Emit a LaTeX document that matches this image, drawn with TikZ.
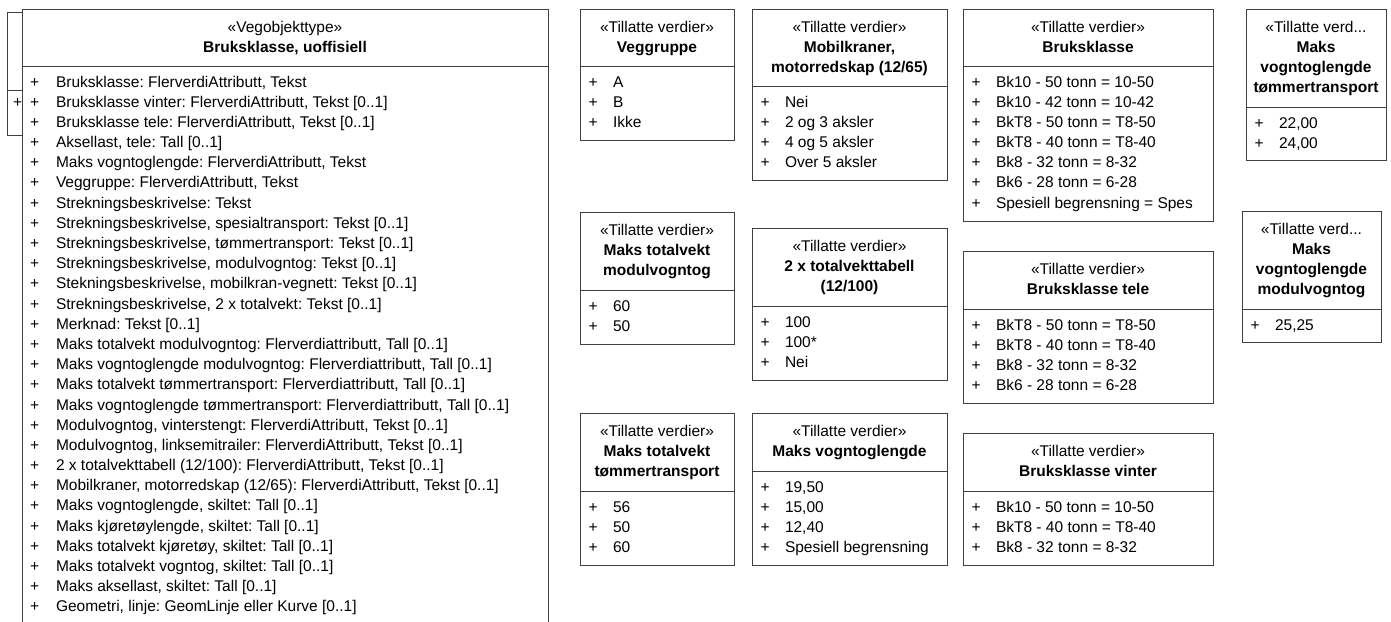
\documentclass[tikz,border=0pt]{standalone}
\usepackage{fontspec}
\setmainfont{Liberation Sans}
\frenchspacing
\tikzset{
  boxline/.style={draw=black!75, line width=0.9pt},
  txt/.style={inner sep=0pt, outer sep=0pt, font=\fontsize{15.5}{20}\selectfont},
  ttl/.style={txt, anchor=base},
  ttlb/.style={ttl, font=\fontsize{15.5}{20}\selectfont\bfseries},
  itm/.style={txt, anchor=base west},
}
% name, left, top, right, separator, bottom, stereotype, title lines, items
\newcommand{\tvbox}[9]{%
  \node[boxline, fill=white, anchor=north west, inner sep=0pt,
        minimum width={(#4-#2)*1pt}, minimum height={(#6-#3)*1pt}] (#1) at (#2,#3) {};
  \draw[boxline] (#1.west |- 0,#5) -- (#1.east |- 0,#5);
  \node[ttl] (#1-st) at ({(#2+#4)/2},{#3+23.5}) {#7};
  \foreach \t [count=\i] in {#8} {
    \node[ttlb] (#1-t\i) at ({(#2+#4)/2},{#3+23.5+20*\i}) {\t};
  }
  \foreach \t [count=\i from 0] in {#9} {
    \node[itm] (#1-p\i) at ({#2+8.5},{#5+21+20.19*\i}) {+};
    \node[itm] (#1-a\i) at ({#2+33},{#5+21+20.19*\i}) {\t};
  }
}
\begin{document}
\begin{tikzpicture}[x=1pt,y=-1pt]
\useasboundingbox (0,0) rectangle (1391,621);
\clip (0,0) rectangle (1391,621);
\fill[white] (0,0) rectangle (1391,621);

% box partly hidden behind the main class
\coordinate (h1) at (22,12);
\coordinate (h2) at (7,12);
\coordinate (h3) at (7,135);
\coordinate (h4) at (22,135);
\coordinate (h5) at (7,90);
\coordinate (h6) at (22,90);
\draw[boxline] (h1) -- (h2) -- (h3) -- (h4);
\draw[boxline] (h5) -- (h6);
\node[itm] (hplus) at (13,107) {+};

% main class
\coordinate (m1) at (22,640);
\coordinate (m2) at (22,9);
\coordinate (m3) at (548,9);
\coordinate (m4) at (548,640);
\fill[white] (m2) rectangle (m4);
\draw[boxline] (m1) -- (m2) -- (m3) -- (m4);
\coordinate (ms1) at (22,66);
\coordinate (ms2) at (548,66);
\draw[boxline] (ms1) -- (ms2);
\node[ttl] (mst) at (285,32.5) {«Vegobjekttype»};
\node[ttlb] (mtt) at (285,52.5) {Bruksklasse, uoffisiell};
\foreach \t [count=\i from 0] in {
  {Bruksklasse: FlerverdiAttributt, Tekst},
  {Bruksklasse vinter: FlerverdiAttributt, Tekst [0..1]},
  {Bruksklasse tele: FlerverdiAttributt, Tekst [0..1]},
  {Aksellast, tele: Tall [0..1]},
  {Maks vogntoglengde: FlerverdiAttributt, Tekst},
  {Veggruppe: FlerverdiAttributt, Tekst},
  {Strekningsbeskrivelse: Tekst},
  {Strekningsbeskrivelse, spesialtransport: Tekst [0..1]},
  {Strekningsbeskrivelse, tømmertransport: Tekst [0..1]},
  {Strekningsbeskrivelse, modulvogntog: Tekst [0..1]},
  {Stekningsbeskrivelse, mobilkran-vegnett: Tekst [0..1]},
  {Strekningsbeskrivelse, 2 x totalvekt: Tekst [0..1]},
  {Merknad: Tekst [0..1]},
  {Maks totalvekt modulvogntog: Flerverdiattributt, Tall [0..1]},
  {Maks vogntoglengde modulvogntog: Flerverdiattributt, Tall [0..1]},
  {Maks totalvekt tømmertransport: Flerverdiattributt, Tall [0..1]},
  {Maks vogntoglengde tømmertransport: Flerverdiattributt, Tall [0..1]},
  {Modulvogntog, vinterstengt: FlerverdiAttributt, Tekst [0..1]},
  {Modulvogntog, linksemitrailer: FlerverdiAttributt, Tekst [0..1]},
  {2 x totalvekttabell (12/100): FlerverdiAttributt, Tekst [0..1]},
  {Mobilkraner, motorredskap (12/65): FlerverdiAttributt, Tekst [0..1]},
  {Maks vogntoglengde, skiltet: Tall [0..1]},
  {Maks kjøretøylengde, skiltet: Tall [0..1]},
  {Maks totalvekt kjøretøy, skiltet: Tall [0..1]},
  {Maks totalvekt vogntog, skiltet: Tall [0..1]},
  {Maks aksellast, skiltet: Tall [0..1]},
  {Geometri, linje: GeomLinje eller Kurve [0..1]}} {
  \node[itm] (mp\i) at (30,{87+20.19*\i}) {+};
  \node[itm] (ma\i) at (56,{87+20.19*\i}) {\t};
}

% value boxes
\tvbox{veg}{580}{9}{734}{66}{140}{«Tillatte verdier»}{Veggruppe}{A,B,Ikke}
\tvbox{mob}{752}{9}{947}{86}{180}{«Tillatte verdier»}{{Mobilkraner,},{motorredskap (12/65)}}{Nei,2 og 3 aksler,4 og 5 aksler,Over 5 aksler}
\tvbox{bk}{963}{9}{1213}{66}{221}{«Tillatte verdier»}{Bruksklasse}{Bk10 - 50 tonn = 10-50,Bk10 - 42 tonn = 10-42,BkT8 - 50 tonn = T8-50,BkT8 - 40 tonn = T8-40,Bk8 - 32 tonn = 8-32,Bk6 - 28 tonn = 6-28,Spesiell begrensning = Spes}
\tvbox{mvt}{1246}{9}{1386}{107}{160}{«Tillatte verd...}{Maks,vogntoglengde,tømmertransport}{{22,00},{24,00}}
\tvbox{mtm}{580}{212}{734}{290}{344}{«Tillatte verdier»}{Maks totalvekt,modulvogntog}{60,50}
\tvbox{tt}{752}{228}{947}{306}{380}{«Tillatte verdier»}{2 x totalvekttabell,(12/100)}{100,100*,Nei}
\tvbox{bkt}{963}{251}{1213}{309}{403}{«Tillatte verdier»}{Bruksklasse tele}{BkT8 - 50 tonn = T8-50,BkT8 - 40 tonn = T8-40,Bk8 - 32 tonn = 8-32,Bk6 - 28 tonn = 6-28}
\tvbox{mvm}{1242}{211}{1381}{309}{342}{«Tillatte verd...}{Maks,vogntoglengde,modulvogntog}{{25,25}}
\tvbox{mtt}{580}{413}{734}{491}{565}{«Tillatte verdier»}{Maks totalvekt,tømmertransport}{56,50,60}
\tvbox{mv}{752}{413}{947}{471}{565}{«Tillatte verdier»}{Maks vogntoglengde}{{19,50},{15,00},{12,40},Spesiell begrensning}
\tvbox{bkv}{963}{433}{1213}{491}{565}{«Tillatte verdier»}{Bruksklasse vinter}{Bk10 - 50 tonn = 10-50,BkT8 - 40 tonn = T8-40,Bk8 - 32 tonn = 8-32}
\end{tikzpicture}
\end{document}
